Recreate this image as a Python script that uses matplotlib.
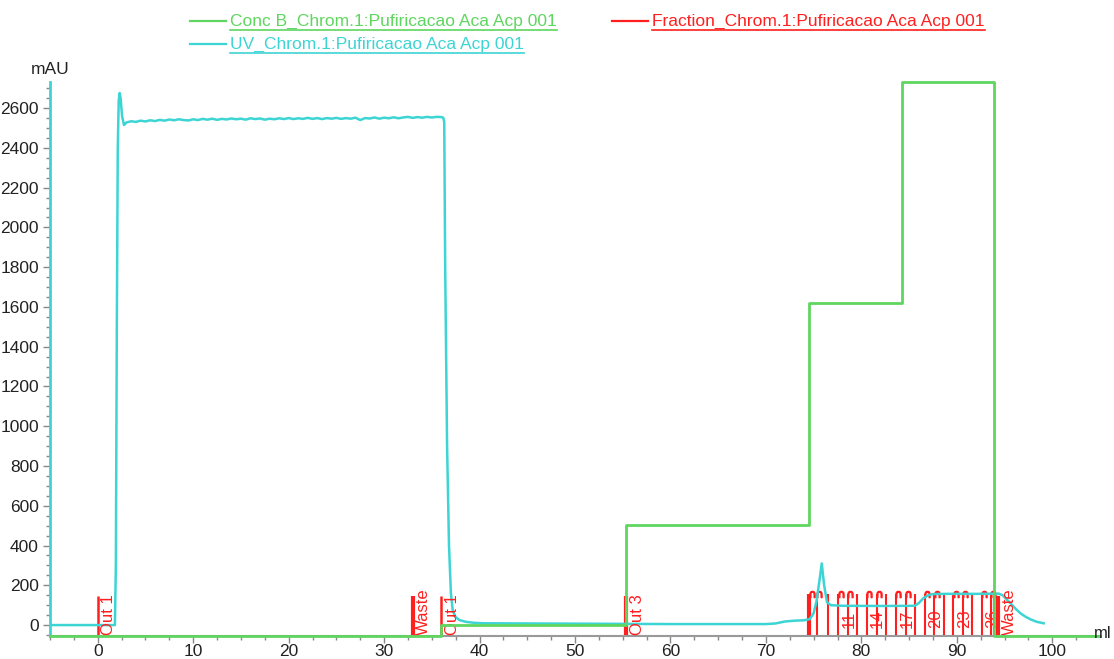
import numpy as np
import matplotlib
matplotlib.use("Agg")
import matplotlib.pyplot as plt
from matplotlib.lines import Line2D

plt.rcParams['font.family'] = ['Liberation Sans', 'DejaVu Sans']

# UV trace (mAU) against retention volume (ml)
uv_ml = [-5.0, 1.8, 1.9, 2.0, 2.1, 2.2, 2.3, 2.4, 2.55, 2.75, 2.9,
         3.0, 3.5, 4.0, 4.5, 5.0, 5.5, 6.0, 6.5, 7.0, 7.5, 8.0, 8.5, 9.0, 9.5,
         10.0, 10.5, 11.0, 11.5, 12.0, 12.5, 13.0, 13.5, 14.0, 14.5, 15.0, 15.5,
         16.0, 16.5, 17.0, 17.5, 18.0, 18.5, 19.0, 19.5, 20.0, 20.5, 21.0, 21.5,
         22.0, 22.5, 23.0, 23.5, 24.0, 24.5, 25.0, 25.5, 26.0, 26.5, 27.0, 27.5,
         28.0, 28.5, 29.0, 29.5, 30.0, 30.5, 31.0, 31.5, 32.0, 32.5, 33.0, 33.5,
         34.0, 34.5, 35.0, 35.5, 36.0,
         36.2, 36.3, 36.4, 36.6, 36.8, 37.0, 37.2, 37.5, 37.9, 38.6, 39.5, 40.5,
         45.0, 50.0, 55.0, 60.0, 65.0, 70.0, 71.0, 72.0, 73.0, 74.0, 74.6, 75.0,
         75.3, 75.6, 75.85, 76.1, 76.4, 76.8, 78.0, 82.0, 85.6, 86.0, 86.5, 87.0,
         87.5, 89.0, 92.0, 94.4, 94.8, 95.2, 95.65, 96.2, 96.7, 97.2, 97.75, 98.4,
         99.1]
uv_mau = [0, 0, 300, 1500, 2400, 2640, 2676, 2650, 2560, 2515, 2522,
          2528, 2534, 2531, 2537, 2533, 2539, 2535, 2541, 2537, 2543, 2539, 2544, 2540, 2538,
          2544, 2540, 2546, 2542, 2547, 2541, 2546, 2543, 2548, 2544, 2547, 2542,
          2549, 2545, 2548, 2542, 2547, 2544, 2549, 2545, 2550, 2545, 2549, 2546,
          2551, 2546, 2550, 2545, 2550, 2547, 2551, 2546, 2550, 2547, 2552, 2540,
          2550, 2548, 2553, 2547, 2552, 2549, 2554, 2549, 2553, 2556, 2551, 2555,
          2552, 2556, 2553, 2556, 2555,
          2552, 2530, 1800, 900, 400, 160, 70, 40, 25, 16, 11, 9,
          8, 7, 6, 5, 5, 5, 8, 18, 22, 24, 30, 60,
          120, 220, 310, 200, 115, 100, 97, 96, 97, 110, 135, 150,
          156, 157, 157, 158, 150, 130, 108, 80, 58, 42, 28, 16,
          9]

# Conc B program (%B), stepwise
concb_ml = [-5.0, 36.0, 55.35, 74.56, 84.3, 93.9, 105.0]
concb_pct = [0, 2, 20, 60, 100, 0, 0]

# outlet / waste events
event_ml = [0.0, 33.0, 36.0, 55.35, 94.33]
event_text = ['Out 1', 'Waste', 'Out 1', 'Out 3', 'Waste']

# collected fractions
frac_ml = [74.56, 75.36, 76.48, 77.57, 78.58, 79.56, 80.54, 81.59, 82.6, 83.62,
           84.63, 85.61, 86.63, 87.65, 88.65, 89.64, 90.62, 91.63, 92.61, 93.56, 93.91]
frac_no = list(range(8, 29))
frac_shown = [11, 14, 17, 20, 23, 26]

cyan = '#3dd4d4'
green = '#5fd65f'
red = '#ff1f1f'
mark_top = 145

fig = plt.figure(figsize=(11.14, 6.59), dpi=100)
W, H = 1114, 659
ax = fig.add_axes([50 / W, 23 / H, 1050 / W, (636 - 81.7) / H])
ax.set_xlim(-5, 105)
ax.set_ylim(-55, 2733)
ybot = ax.get_ylim()[0]

ax.plot(uv_ml, uv_mau, color=cyan, lw=1.8, zorder=3)

# fraction marks
for x, t in zip(event_ml, event_text):
    lw = 3 if t == 'Waste' or x == event_ml[3] else 1.8
    ax.vlines(x, ybot, mark_top, color=red, lw=lw, zorder=2)
    ax.annotate(t, (x, ybot), xytext=(2.5, 1), textcoords='offset points',
                rotation=90, ha='left', va='bottom', color=red, fontsize=12)
for i, (x, n) in enumerate(zip(frac_ml, frac_no)):
    ax.vlines(x, ybot, mark_top + 10, color=red, lw=3 if i == 0 else 1.5, zorder=2)
    if n in frac_shown:
        ax.annotate(str(n), (x, ybot), xytext=(2.5, 6), textcoords='offset points',
                    rotation=90, ha='left', va='bottom', color=red, fontsize=12)
    if (n - 8) % 3 != 2:
        ax.plot(x + 0.25, mark_top + 12, marker=r'$\cap$', ms=4.5, color=red,
                ls='none', zorder=2)

# Conc B on its own 0-100 % scale
ax2 = ax.twinx()
ax2.step(concb_ml, concb_pct, where='post', color=green, lw=2, clip_on=False)
ax2.set_ylim(0, 100)
ax2.axis('off')

ax.set_xticks(np.arange(0, 101, 10))
ax.set_xticks(np.arange(-5, 105, 2.5), minor=True)
ax.set_yticks(np.arange(0, 2601, 200))
ax.set_yticks(np.arange(-50, 2733, 50), minor=True)
ax.tick_params(which='both', direction='out', color='#888888', labelsize=12.5,
               labelcolor='#222222')
ax.tick_params(which='major', length=5, width=1)
ax.tick_params(which='minor', length=3, width=1)
ax.tick_params(axis='x', pad=1)
ax.tick_params(axis='y', pad=3)
for s in ('top', 'right'):
    ax.spines[s].set_visible(False)
ax.spines['left'].set_color(cyan)
ax.spines['left'].set_linewidth(2)
ax.spines['bottom'].set_color('#999999')
ax.spines['bottom'].set_linewidth(1.5)

fig.text(50 / W, 1 - 70 / H, 'mAU', ha='center', va='center', fontsize=12.5,
         color='#222222')
fig.text(1112 / W, 1 - 633 / H, 'ml', ha='right', va='center', fontsize=12,
         color='#222222')

# legend across the top, underlined entries
entries = [(190, 21, green, 'Conc B_Chrom.1:Pufiricacao Aca Acp 001'),
           (612, 21, red, 'Fraction_Chrom.1:Pufiricacao Aca Acp 001'),
           (190, 44, cyan, 'UV_Chrom.1:Pufiricacao Aca Acp 001')]
texts = []
for x0, y0, c, label in entries:
    fig.add_artist(Line2D([x0 / W, (x0 + 36) / W], [1 - y0 / H, 1 - y0 / H],
                          color=c, lw=1.6, transform=fig.transFigure))
    t = fig.text((x0 + 40) / W, 1 - y0 / H, label, ha='left', va='center',
                 fontsize=12.5, color=c)
    texts.append((t, y0, c))
fig.canvas.draw()
for t, y0, c in texts:
    bb = t.get_window_extent()
    fig.add_artist(Line2D([bb.x0 / W, bb.x1 / W], [1 - (y0 + 9) / H, 1 - (y0 + 9) / H],
                          color=c, lw=1.2, transform=fig.transFigure))

fig.savefig('out.png', dpi=100)
